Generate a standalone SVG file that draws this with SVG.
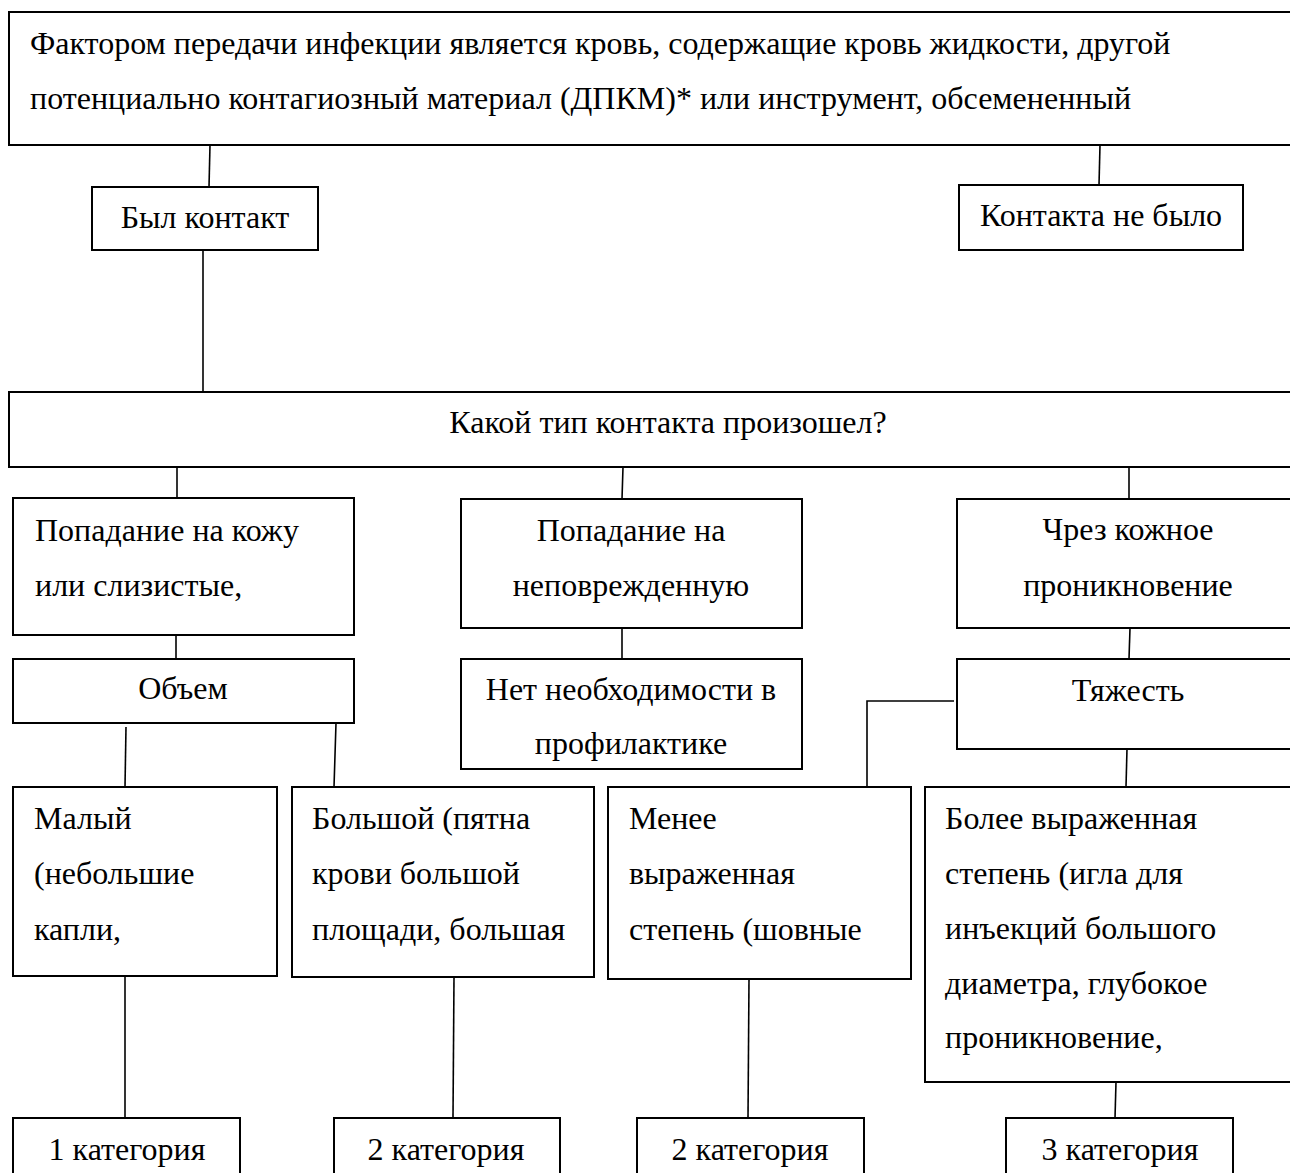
<svg xmlns="http://www.w3.org/2000/svg" width="1290" height="1173" viewBox="0 0 1290 1173">
<style>
.box{fill:#fff;stroke:#000;stroke-width:2}
.con{fill:none;stroke:#000;stroke-width:1.6}
text{font-family:"Liberation Serif","Times New Roman",serif;font-size:32px;fill:#000}
.c{text-anchor:middle}
</style>
<rect width="1290" height="1173" fill="#fff"/>
<g id="connectors">
<line class="con" x1="210" y1="145" x2="209" y2="187"/>
<line class="con" x1="1100" y1="145" x2="1099" y2="185"/>
<line class="con" x1="203" y1="250" x2="203" y2="392"/>
<line class="con" x1="177" y1="467" x2="177" y2="498"/>
<line class="con" x1="623" y1="467" x2="622" y2="499"/>
<line class="con" x1="1129" y1="467" x2="1129" y2="499"/>
<line class="con" x1="176" y1="635" x2="176" y2="659"/>
<line class="con" x1="622" y1="628" x2="622" y2="659"/>
<line class="con" x1="1130" y1="628" x2="1129" y2="659"/>
<polyline class="con" points="954,701 867,701 867,787"/>
<line class="con" x1="1127" y1="749" x2="1126" y2="787"/>
<line class="con" x1="126" y1="727" x2="125" y2="787"/>
<line class="con" x1="336" y1="723" x2="334" y2="787"/>
<line class="con" x1="125" y1="976" x2="125" y2="1118"/>
<line class="con" x1="454" y1="977" x2="453" y2="1118"/>
<line class="con" x1="749" y1="979" x2="748" y2="1118"/>
<line class="con" x1="1116" y1="1082" x2="1115" y2="1118"/>
</g>
<g id="n_factor">
<rect class="box" x="9" y="12" width="1300" height="133"/>
<text x="30" y="54">Фактором передачи инфекции является кровь, содержащие кровь жидкости, другой</text>
<text x="30" y="109">потенциально контагиозный материал (ДПКМ)* или инструмент, обсемененный</text>
</g>
<g id="n_contact">
<rect class="box" x="92" y="187" width="226" height="63"/>
<text class="c" x="205" y="228">Был контакт</text>
</g>
<g id="n_nocontact">
<rect class="box" x="959" y="185" width="284" height="65"/>
<text class="c" x="1101" y="226">Контакта не было</text>
</g>
<g id="n_type">
<rect class="box" x="9" y="392" width="1300" height="75"/>
<text class="c" x="668" y="433">Какой тип контакта произошел?</text>
</g>
<g id="n_skin">
<rect class="box" x="13" y="498" width="341" height="137"/>
<text x="35" y="541">Попадание на кожу</text>
<text x="35" y="596">или слизистые,</text>
</g>
<g id="n_intact">
<rect class="box" x="461" y="499" width="341" height="129"/>
<text class="c" x="631" y="541">Попадание на</text>
<text class="c" x="631" y="596">неповрежденную</text>
</g>
<g id="n_percut">
<rect class="box" x="957" y="499" width="350" height="129"/>
<text class="c" x="1128" y="540">Чрез кожное</text>
<text class="c" x="1128" y="596">проникновение</text>
</g>
<g id="n_volume">
<rect class="box" x="13" y="659" width="341" height="64"/>
<text class="c" x="183" y="699">Объем</text>
</g>
<g id="n_noneed">
<rect class="box" x="461" y="659" width="341" height="110"/>
<text class="c" x="631" y="700">Нет необходимости в</text>
<text class="c" x="631" y="754">профилактике</text>
</g>
<g id="n_severity">
<rect class="box" x="957" y="659" width="350" height="90"/>
<text class="c" x="1128" y="701">Тяжесть</text>
</g>
<g id="n_small">
<rect class="box" x="13" y="787" width="264" height="189"/>
<text x="34" y="829">Малый</text>
<text x="34" y="884">(небольшие</text>
<text x="34" y="940">капли,</text>
</g>
<g id="n_large">
<rect class="box" x="292" y="787" width="302" height="190"/>
<text x="312" y="829">Большой (пятна</text>
<text x="312" y="884">крови большой</text>
<text x="312" y="940">площади, большая</text>
</g>
<g id="n_less">
<rect class="box" x="608" y="787" width="303" height="192"/>
<text x="629" y="829">Менее</text>
<text x="629" y="884">выраженная</text>
<text x="629" y="940">степень (шовные</text>
</g>
<g id="n_more">
<rect class="box" x="925" y="787" width="380" height="295"/>
<text x="945" y="829">Более выраженная</text>
<text x="945" y="884">степень (игла для</text>
<text x="945" y="939">инъекций большого</text>
<text x="945" y="994">диаметра, глубокое</text>
<text x="945" y="1048">проникновение,</text>
</g>
<g id="n_cat1">
<rect class="box" x="13" y="1118" width="227" height="70"/>
<text class="c" x="127" y="1160">1 категория</text>
</g>
<g id="n_cat2a">
<rect class="box" x="334" y="1118" width="226" height="70"/>
<text class="c" x="446" y="1160">2 категория</text>
</g>
<g id="n_cat2b">
<rect class="box" x="637" y="1118" width="227" height="70"/>
<text class="c" x="750" y="1160">2 категория</text>
</g>
<g id="n_cat3">
<rect class="box" x="1006" y="1118" width="227" height="70"/>
<text class="c" x="1120" y="1160">3 категория</text>
</g>
</svg>
